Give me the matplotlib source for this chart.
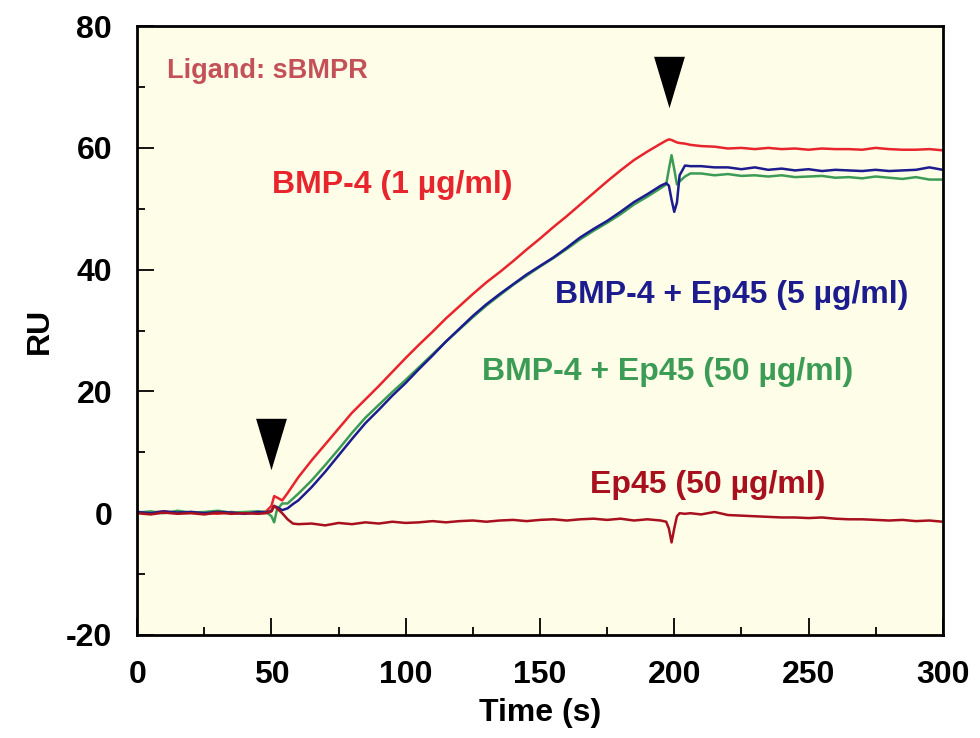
import numpy as np
import matplotlib.pyplot as plt
from matplotlib.path import Path
from matplotlib.ticker import MultipleLocator

plt.rcParams["font.family"] = ["Liberation Sans", "DejaVu Sans"]
plt.rcParams["font.weight"] = "bold"
plt.rcParams["axes.labelweight"] = "bold"
plt.rcParams["axes.unicode_minus"] = False

RED = '#e8242c'
BLUE = '#1c1c8e'
GREEN = '#3c9c56'
DARKRED = '#a8101e'
LIGAND = '#c45058'

# sampling times (s)
t = [0, 5, 10, 15, 20, 25, 30, 35, 40, 45,
     48, 50, 51, 52, 54, 56, 58,
     60, 65, 70, 75, 80, 85, 90, 95, 100, 105, 110, 115, 120, 125, 130,
     135, 140, 145, 150, 155, 160, 165, 170, 175, 180, 185, 190, 195,
     197, 198, 199, 200, 201, 202, 204, 206,
     210, 215, 220, 225, 230, 235, 240, 245, 250, 255, 260, 265, 270,
     275, 280, 285, 290, 295, 300]

bmp4 = [0.2, 0.1, 0.3, 0.0, 0.2, 0.1, -0.1, 0.2, 0.0, 0.1,
        0.3, 1.2, 2.8, 2.6, 2.1, 3.3, 4.6,
        5.9, 8.7, 11.3, 13.9, 16.5, 18.7, 20.9, 23.2, 25.5, 27.7, 29.8, 32.0, 34.0, 36.0, 37.9,
        39.6, 41.4, 43.3, 45.1, 47.0, 48.8, 50.7, 52.6, 54.5, 56.3, 58.0, 59.4, 60.7,
        61.2, 61.4, 61.3, 61.1, 60.9, 60.8, 60.7, 60.5,
        60.3, 60.2, 59.9, 60.0, 59.8, 60.0, 59.8, 59.9, 59.7, 59.9, 59.8, 59.8, 59.7,
        60.0, 59.8, 59.7, 59.7, 59.8, 59.6]

bmp4_ep5 = [0.2, 0.0, 0.3, 0.1, 0.2, 0.0, 0.2, 0.1, -0.1, 0.2,
            0.1, 0.4, 1.2, 1.0, 0.5, 0.8, 1.5,
            2.1, 4.3, 6.8, 9.5, 12.2, 14.8, 17.0, 19.3, 21.4, 23.7, 25.9, 28.2, 30.3, 32.4, 34.3,
            36.0, 37.6, 39.2, 40.6, 42.0, 43.6, 45.3, 46.7, 48.0, 49.5, 51.1, 52.4, 53.8,
            54.2, 53.8, 51.5, 49.5, 51.0, 55.5, 57.1, 57.0,
            57.0, 56.8, 56.8, 56.5, 56.8, 56.4, 56.6, 56.3, 56.5, 56.2, 56.4, 56.3, 56.2,
            56.4, 56.2, 56.3, 56.4, 56.8, 56.4]

bmp4_ep50 = [0.1, 0.3, 0.0, 0.4, 0.1, 0.2, 0.4, 0.1, 0.2, 0.3,
             0.2, -0.5, -1.5, 0.5, 1.6, 1.6, 2.4,
             3.2, 5.4, 7.9, 10.5, 13.2, 15.7, 17.8, 19.9, 21.9, 24.0, 26.1, 28.2, 30.2, 32.2, 34.1,
             35.8, 37.5, 39.0, 40.5, 41.9, 43.4, 45.0, 46.4, 47.7, 49.1, 50.7, 52.0, 53.4,
             54.0, 56.5, 58.8, 56.5, 54.0, 54.5, 55.3, 55.8,
             55.8, 55.5, 55.7, 55.4, 55.5, 55.3, 55.5, 55.2, 55.3, 55.4, 55.1, 55.2, 55.0,
             55.3, 55.1, 54.9, 55.2, 54.8, 54.8]

ep45 = [0.0, -0.2, 0.1, -0.1, 0.0, -0.2, 0.1, -0.1, 0.0, -0.1,
        0.0, 0.3, 1.2, 0.8, 0.0, -1.0, -1.7,
        -1.8, -1.7, -2.0, -1.6, -1.8, -1.5, -1.7, -1.4, -1.6, -1.5, -1.3, -1.5, -1.3, -1.2, -1.4,
        -1.2, -1.1, -1.3, -1.1, -1.0, -1.2, -1.0, -0.9, -1.1, -0.9, -1.2, -1.0, -1.2,
        -1.4, -2.5, -4.8, -2.5, -0.5, 0.0, -0.1, 0.0,
        -0.2, 0.2, -0.3, -0.4, -0.5, -0.6, -0.7, -0.7, -0.8, -0.7, -0.9, -1.0, -1.0,
        -1.1, -1.2, -1.1, -1.3, -1.2, -1.4]

# injection start / end markers
inject_t = [50, 198]
inject_y = [11.3, 70.9]

fig = plt.figure(figsize=(9.8, 7.38), dpi=100)
ax = fig.add_axes([0.140, 0.1396, 0.822, 0.825])
ax.set_facecolor('#fdfde8')

ax.plot(t, bmp4, color=RED, lw=1.8)
ax.plot(t, bmp4_ep50, color=GREEN, lw=1.8)
ax.plot(t, bmp4_ep5, color=BLUE, lw=1.8)
ax.plot(t, ep45, color=DARKRED, lw=1.8)

tri = Path([(-0.6, 1.0), (0.6, 1.0), (0.0, -1.0), (-0.6, 1.0)])
ax.plot(inject_t, inject_y, ls='none', marker=tri, markersize=37,
        color='black', markeredgewidth=0)

ax.text(11, 72.7, 'Ligand: sBMPR', color=LIGAND, fontsize=19.5, va='center')
ax.text(50.3, 53.9, 'BMP-4 (1 \u00b5g/ml)', color=RED, fontsize=23, va='center')
ax.text(155.6, 35.8, 'BMP-4 + Ep45 (5 \u00b5g/ml)', color=BLUE, fontsize=23, va='center')
ax.text(128.4, 23.2, 'BMP-4 + Ep45 (50 \u00b5g/ml)', color=GREEN, fontsize=23, va='center')
ax.text(168.6, 4.6, 'Ep45 (50 \u00b5g/ml)', color=DARKRED, fontsize=23, va='center')

ax.set_xlim(0, 300)
ax.set_ylim(-20, 80)
ax.xaxis.set_major_locator(MultipleLocator(50))
ax.xaxis.set_minor_locator(MultipleLocator(25))
ax.yaxis.set_major_locator(MultipleLocator(20))
ax.yaxis.set_minor_locator(MultipleLocator(10))
ax.tick_params(which='both', direction='in', top=False, right=False,
               labelsize=23, pad=18, width=1.3)
ax.tick_params(which='major', length=12)
ax.tick_params(which='minor', length=6)
for s in ax.spines.values():
    s.set_linewidth(2)

ax.set_xlabel('Time (s)', fontsize=23, labelpad=6)
ax.set_ylabel('RU', fontsize=23, labelpad=8)

fig.savefig('out.png', dpi=100)
